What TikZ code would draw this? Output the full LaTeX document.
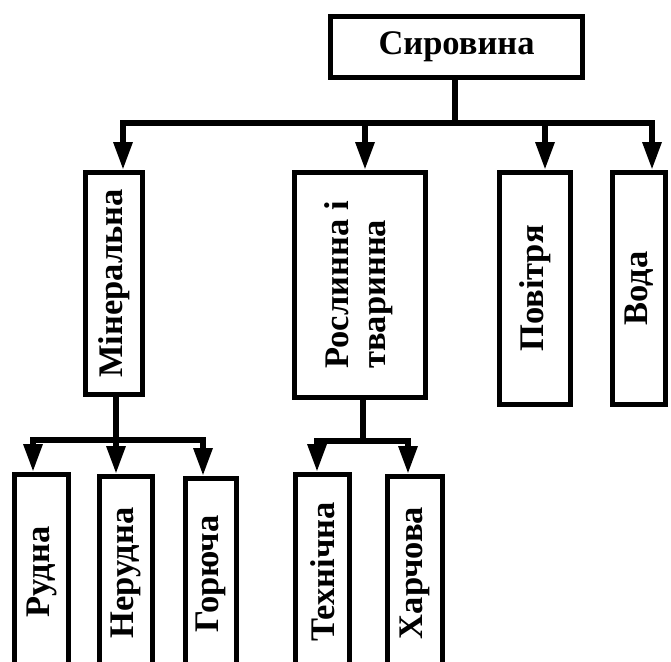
\documentclass[tikz,border=0pt]{standalone}
\usepackage{fontspec}
\setmainfont{Liberation Serif}
\usetikzlibrary{arrows.meta}
\tikzset{
  box/.style={draw, line width=5pt, inner sep=0pt, font=\fontsize{34.5}{37}\selectfont\bfseries},
  conn/.style={line width=6pt, line cap=rect},
  arr/.style={line width=6pt, -{Triangle[length=28pt,width=18pt]}},
}
\newcommand{\vtext}[1]{\rotatebox{90}{#1}}
\begin{document}
\begin{tikzpicture}[x=1pt,y=-1pt]
\useasboundingbox (0,0) rectangle (671,661);
\clip (0,0) rectangle (671,661);
\fill[white] (0,0) rectangle (671,661);
% nodes
\node[box, minimum width=252pt, minimum height=61pt] (top) at (456.5,47) {Сировина};
\node[box, minimum width=57pt, minimum height=222pt] (min) at (114,283.5) {\vtext{Мінеральна}\hspace{6pt}};
\node[box, minimum width=131pt, minimum height=225pt] (ros) at (360,285) {\vtext{\begin{tabular}{@{}l@{}}Рослинна і\\тваринна\end{tabular}}\hspace{5pt}};
\node[box, minimum width=71pt, minimum height=232pt] (pov) at (535,288.5) {\vtext{Повітря}};
\node[box, minimum width=53pt, minimum height=232pt] (voda) at (639,288.5) {\vtext{Вода}};
\node[box, minimum width=54pt, minimum height=195pt] (rud) at (41.5,572) {\vtext{Рудна}};
\node[box, minimum width=53pt, minimum height=193pt] (ner) at (126,573) {\vtext{Нерудна}};
\node[box, minimum width=51pt, minimum height=191pt] (gor) at (211,574) {\vtext{Горюча}};
\node[box, minimum width=54pt, minimum height=195pt] (tex) at (322.5,572) {\vtext{Технічна}};
\node[box, minimum width=55pt, minimum height=193pt] (har) at (415,573) {\vtext{Харчова}};
% junction coordinates
\coordinate (b0) at (455,123);
\coordinate (b1) at (123,123);
\coordinate (b2) at (365,123);
\coordinate (b3) at (545,123);
\coordinate (b4) at (652,123);
\coordinate (m0) at (116,440);
\coordinate (m1) at (33,440);
\coordinate (m3) at (203,440);
\coordinate (r0) at (363,441);
\coordinate (r1) at (317,441);
\coordinate (r2) at (408,441);
% top tree
\draw[conn] (top.south -| b0) -- (b0);
\draw[conn] (b1) -- (b4);
\draw[arr] (b1) -- (b1 |- min.north);
\draw[arr] (b2) -- (b2 |- ros.north);
\draw[arr] (b3) -- (b3 |- pov.north);
\draw[arr] (b4) -- (b4 |- voda.north);
% mineral tree
\draw[conn] (min.south -| m0) -- (m0);
\draw[conn] (m1) -- (m3);
\draw[arr] (m1) -- (m1 |- rud.north);
\draw[arr] (m0) -- (m0 |- ner.north);
\draw[arr] (m3) -- (m3 |- gor.north);
% plant tree
\draw[conn] (ros.south -| r0) -- (r0);
\draw[conn] (r1) -- (r2);
\draw[arr] (r1) -- (r1 |- tex.north);
\draw[arr] (r2) -- (r2 |- har.north);
\end{tikzpicture}
\end{document}
